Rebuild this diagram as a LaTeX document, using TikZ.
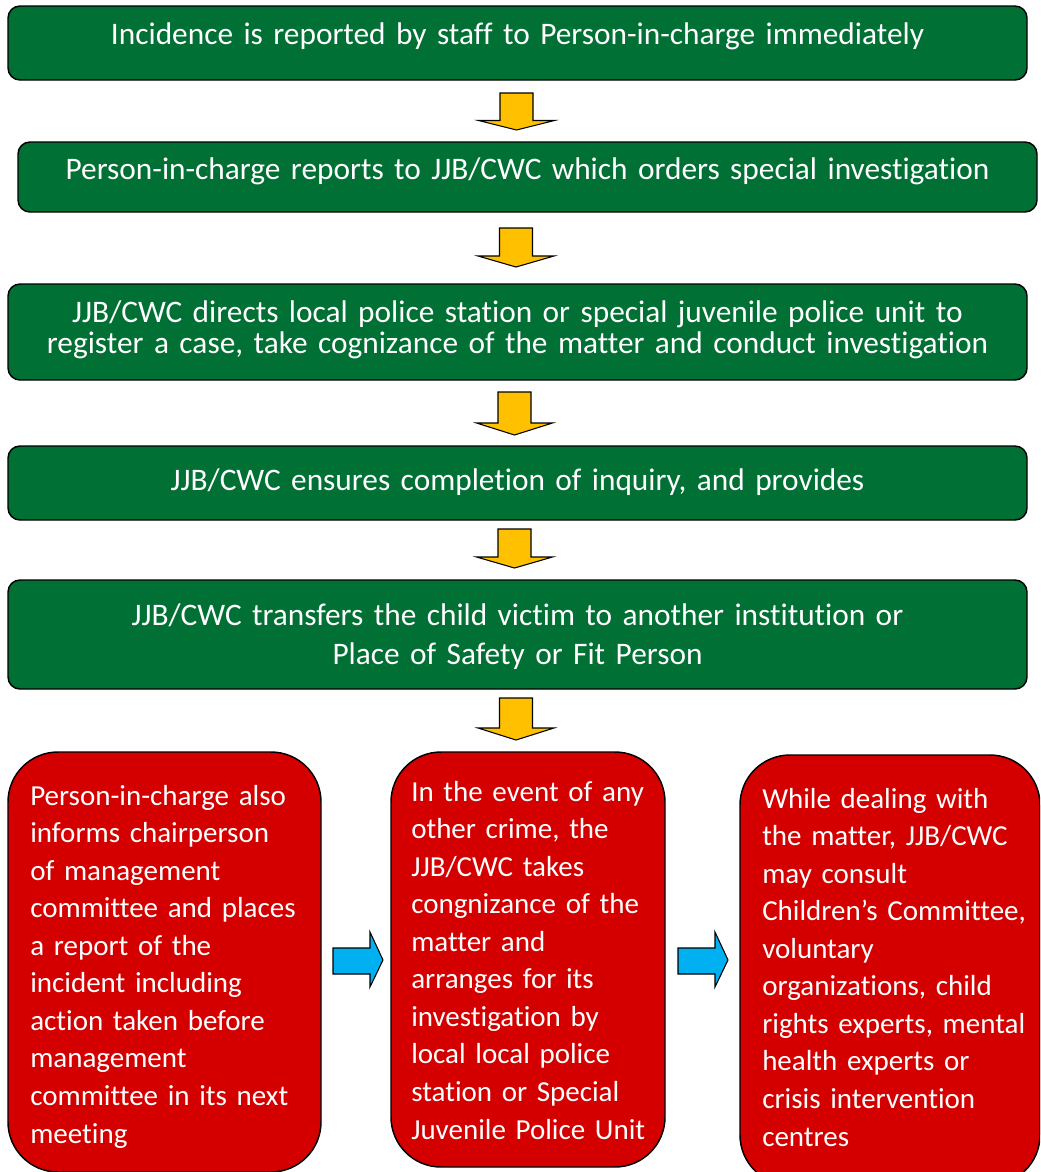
\documentclass[tikz,border=0pt]{standalone}
\usepackage{fontspec}
\setmainfont{Carlito}[Ligatures={NoCommon}]
\definecolor{boxgreen}{RGB}{0,112,52}
\definecolor{boxred}{RGB}{212,0,0}
\definecolor{arryellow}{RGB}{255,192,0}
\definecolor{arrblue}{RGB}{0,176,240}
\newcommand{\yelarrow}[4]{%
  \draw[yarr] (#1-16.5,#2) -- (#1+16.5,#2) -- (#1+16.5,#3) -- (#1+38,#3) -- (#1,#4)
    -- (#1-38,#3) -- (#1-16.5,#3) -- cycle;}
\newcommand{\bluarrow}[1]{%
  \draw[barr] (#1,948) -- (#1+37,948) -- (#1+37,932) -- (#1+50,960) -- (#1+37,987)
    -- (#1+37,974) -- (#1,974) -- cycle;}
\begin{document}
\begin{tikzpicture}[x=0.75pt,y=-0.75pt,
  gbox/.style={draw=black, line width=1.1pt, fill=boxgreen, rounded corners=9pt,
    text=white, font=\fontsize{23.5pt}{23.5pt}\selectfont, align=center, text width=755pt,
    minimum width=764.25pt, inner sep=0pt},
  rbox/.style={draw=black, line width=1.1pt, fill=boxred, rounded corners=37.5pt, inner sep=0pt},
  rtext/.style={text=white, font=\fontsize{21.75pt}{28.17pt}\selectfont, align=left,
    text width=225pt, inner sep=0pt, anchor=base west},
  yarr/.style={draw=black, line width=0.8pt, fill=arryellow, line join=miter},
  barr/.style={draw=black, line width=0.8pt, fill=arrblue, line join=miter}]
\useasboundingbox (0,0) rectangle (1040,1172);
\clip (0,0) rectangle (1040,1172);

% green boxes
\node[gbox, minimum height=55.5pt, text height=10pt, text depth=8pt] (b1) at (517.5,43)
  {Incidence is reported by staff to Person-in-charge immediately};
\node[gbox, minimum height=52.5pt, text height=10pt, text depth=7pt] (b2) at (527.5,177)
  {Person-in-charge reports to JJB/CWC which orders special investigation};
\node[gbox, minimum height=72pt, text height=5pt, text depth=20pt,
  font=\fontsize{23.5pt}{23.25pt}\selectfont] (b3) at (517.5,332)
  {JJB/CWC directs local police station or special juvenile police unit to\\
   register a case, take cognizance of the matter and conduct investigation};
\node[gbox, minimum height=55.5pt, text height=12.5pt, text depth=2pt] (b4) at (517.5,483)
  {JJB/CWC ensures completion of inquiry, and provides};
\node[gbox, minimum height=81.75pt, text height=5pt, text depth=19.25pt,
  font=\fontsize{23.5pt}{29.25pt}\selectfont] (b5) at (517.5,634.5)
  {JJB/CWC transfers the child victim to another institution or\\
   Place of Safety or Fit Person};

% yellow down arrows
\yelarrow{516.5}{93}{120.5}{130}
\yelarrow{516}{228}{256}{267}
\yelarrow{514.5}{392}{423}{435}
\yelarrow{514.5}{529}{557}{568}
\yelarrow{516}{698}{728}{740}

% red boxes
\node[rbox, minimum width=234.75pt, minimum height=315pt] (ra) at (164.5,962) {};
\node[rbox, minimum width=205.5pt, minimum height=311.25pt] (rb) at (528,959.5) {};
\node[rbox, minimum width=225pt, minimum height=322.5pt] (rc) at (890,970) {};

\node[rtext] (ta) at (30,805) {Person-in-charge also\\ informs chairperson\\ of management\\
  committee and places\\ a report of the\\ incident including\\ action taken before\\
  management\\ committee in its next\\ meeting};
\node[rtext] (tb) at (411,801) {In the event of any\\ other crime, the\\ JJB/CWC takes\\
  congnizance of the\\ matter and\\ arranges for its\\ investigation by\\
  local local police\\ station or Special\\ Juvenile Police Unit};
\node[rtext] (tc) at (762,808) {While dealing with\\ the matter, JJB/CWC\\ may consult\\
  Children’s Committee,\\ voluntary\\ organizations, child\\ rights experts, mental\\
  health experts or\\ crisis intervention\\ centres};

% blue right arrows
\bluarrow{333}
\bluarrow{678}
\end{tikzpicture}
\end{document}
